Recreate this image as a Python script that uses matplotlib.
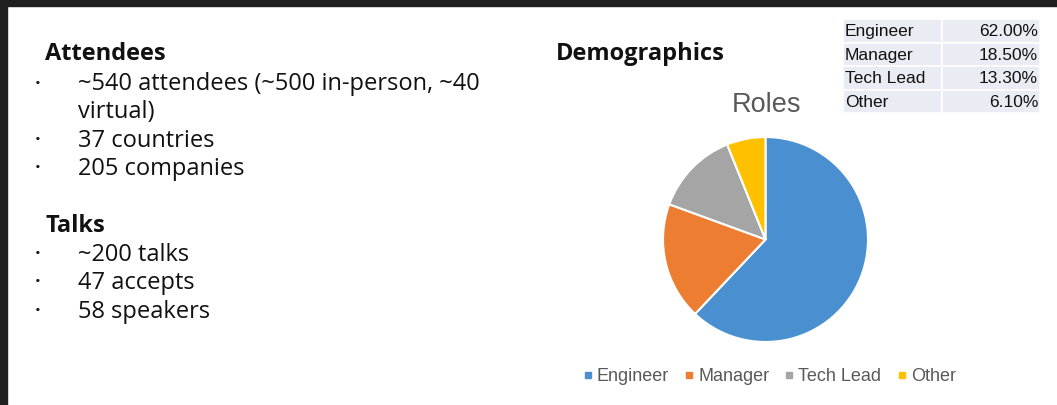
import matplotlib.pyplot as plt
from matplotlib.patches import Rectangle

# data
roles = ['Engineer', 'Manager', 'Tech Lead', 'Other']
shares = [62.0, 18.5, 13.3, 6.1]
colors = ['#4A8FD0', '#ED7D31', '#A5A5A5', '#FFC000']
attendee_lines = ['~540 attendees (~500 in-person, ~40', 'virtual)', '37 countries', '205 companies']
talk_lines = ['~200 talks', '47 accepts', '58 speakers']

W, H = 1057, 406
fig = plt.figure(figsize=(W / 100, H / 100), dpi=100)
fig.patch.set_facecolor('white')

def fx(x):
    return x / W

def fy(y):
    return 1 - y / H

# dark frame from the screenshot (top and left)
fig.patches.append(Rectangle((0, fy(7)), 1, 7 / H, transform=fig.transFigure, color='#202020', zorder=0))
fig.patches.append(Rectangle((0, 0), fx(7), 1, transform=fig.transFigure, color='#202020', zorder=0))

body = dict(family='Open Sans', color='#111111', va='center')
fs = 17

# left text block
fig.text(fx(45), fy(54), 'Attendees', fontsize=fs, fontweight='bold', **body)
ys = [84, 112, 141, 169]
for i, (t, y) in enumerate(zip(attendee_lines, ys)):
    if i != 1:
        fig.text(fx(35), fy(y), '•', fontsize=11, **body)
    fig.text(fx(78), fy(y), t, fontsize=fs, **body)

fig.text(fx(45), fy(226), 'Talks', fontsize=fs, fontweight='bold', **body)
for t, y in zip(talk_lines, [255, 283, 312]):
    fig.text(fx(35), fy(y), '•', fontsize=11, **body)
    fig.text(fx(78), fy(y), t, fontsize=fs, **body)

fig.text(fx(556), fy(54), 'Demographics', fontsize=fs, fontweight='bold', **body)

# pie
ax = fig.add_axes([fx(662), fy(344), 207 / W, 207 / H])
ax.pie(shares, colors=colors, startangle=90, counterclock=False, radius=1,
       wedgeprops=dict(edgecolor='white', linewidth=1.5))
ax.set_xlim(-1.01, 1.01)
ax.set_ylim(-1.01, 1.01)
ax.set_aspect('equal')
ax.axis('off')

fig.text(fx(766), fy(105), 'Roles', fontsize=19.5, family='Liberation Sans',
         color='#595959', ha='center', va='center')

# legend
leg_x = [588, 689, 789, 902]
for name, c, x in zip(roles, colors, leg_x):
    fig.patches.append(Rectangle((fx(x - 3), fy(379)), 6 / W, 6 / H,
                                 transform=fig.transFigure, color=c))
    fig.text(fx(x + 9), fy(376.5), name, fontsize=13, family='Liberation Sans',
             color='#595959', va='center')

# table
tax = fig.add_axes([fx(843), fy(114), (1040 - 843) / W, (114 - 20) / H])
tax.axis('off')
cells = [[r, f'{s:.2f}%'] for r, s in zip(roles, shares)]
tbl = tax.table(cellText=cells, bbox=[0, 0, 1, 1], colWidths=[99, 98],
                cellColours=[['#E9ECF3', '#E9ECF3']] * 4)
tbl.auto_set_font_size(False)
for (r, c), cell in tbl.get_celld().items():
    cell.set_edgecolor('white')
    cell.set_linewidth(1.2)
    cell.get_text().set_fontsize(12.5)
    cell.get_text().set_family('Liberation Sans')
    cell.get_text().set_color('#111111')
    cell.PAD = 0.02
    cell.get_text().set_ha('left' if c == 0 else 'right')
    cell._loc = 'left' if c == 0 else 'right'

fig.savefig('out.png', dpi=100, facecolor='white')
